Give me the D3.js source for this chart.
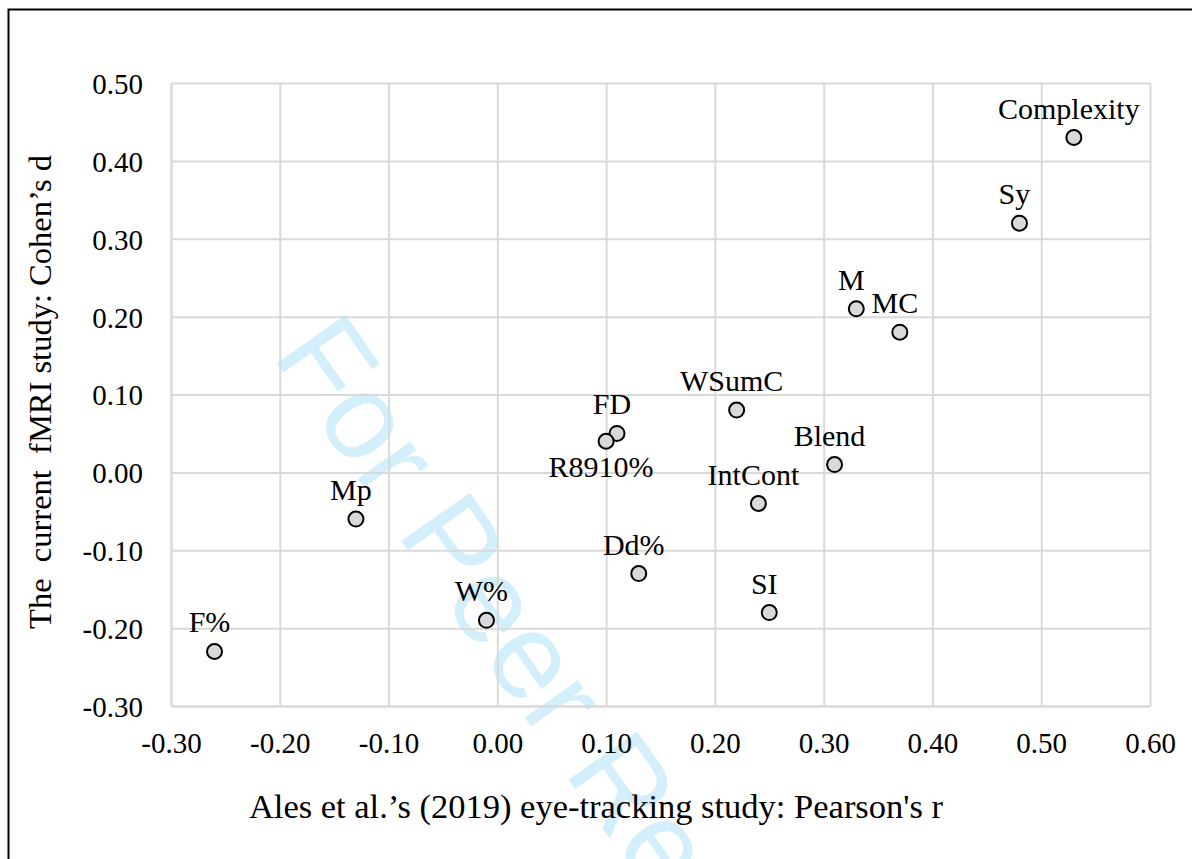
<!DOCTYPE html>
<html lang="en">
<head>
    <meta charset="UTF-8">
    <title>Ales et al. vs fMRI scatter</title>
    <style>
        body { margin: 0; background: #fff; }
        svg text { font-family: "Liberation Serif", "Times New Roman", serif; fill: #000; }
        .grid line, .grid path { stroke: #d9d9d9; stroke-width: 2px; }
    </style>
</head>
<body>
    <div id="chart"></div>

    <script src="https://d3js.org/d3.v7.min.js"></script>
    <script>
        // Data
        const names = ["Complexity", "Sy", "M", "MC", "WSumC", "Blend", "FD", "R8910%",
                       "IntCont", "Mp", "Dd%", "SI", "W%", "F%"];
        const pearsonR = [0.53, 0.48, 0.33, 0.37, 0.22, 0.31, 0.11, 0.10,
                          0.24, -0.13, 0.13, 0.25, -0.01, -0.26];
        const cohensD = [0.43, 0.32, 0.21, 0.18, 0.08, 0.01, 0.05, 0.04,
                         -0.04, -0.06, -0.13, -0.18, -0.19, -0.23];
        const xTicks = [-0.3, -0.2, -0.1, 0.0, 0.1, 0.2, 0.3, 0.4, 0.5, 0.6];
        const yTicks = [-0.3, -0.2, -0.1, 0.0, 0.1, 0.2, 0.3, 0.4, 0.5];
        const labelsBelow = ["R8910%"];

        const width = 1192;
        const height = 859;
        const plot = { left: 171, top: 83, right: 1150, bottom: 706 };
        const serif = "'Liberation Serif', 'Times New Roman', serif";

        const svg = d3.select("#chart").append("svg")
            .attr("width", width)
            .attr("height", height);

        // watermark
        svg.append("text")
            .attr("transform", "translate(271,355) rotate(55)")
            .style("font-family", "'Liberation Sans', Arial, sans-serif")
            .style("font-size", "122px")
            .style("fill", "#d3effc")
            .text("For Peer Review");

        // frame
        svg.append("path")
            .attr("d", `M8.5,${height} V9.5 H${width}`)
            .attr("fill", "none")
            .attr("stroke", "#000")
            .attr("stroke-width", 2);

        const x = d3.scaleLinear().domain([-0.3, 0.6]).range([plot.left, plot.right]);
        const y = d3.scaleLinear().domain([-0.3, 0.5]).range([plot.bottom, plot.top]);
        const fmt = d => d.toFixed(2);

        const xAxis = svg.append("g")
            .attr("class", "grid")
            .attr("transform", `translate(0,${plot.bottom})`)
            .call(d3.axisBottom(x).tickValues(xTicks).tickFormat(fmt)
                .tickSize(-(plot.bottom - plot.top)).tickSizeOuter(0).tickPadding(26));

        const yAxis = svg.append("g")
            .attr("class", "grid")
            .attr("transform", `translate(${plot.left},0)`)
            .call(d3.axisLeft(y).tickValues(yTicks).tickFormat(fmt)
                .tickSize(-(plot.right - plot.left)).tickSizeOuter(0).tickPadding(28));

        [xAxis, yAxis].forEach(g => {
            g.attr("font-family", serif).attr("font-size", 29);
            g.selectAll(".tick text")
                .attr("font-family", serif)
                .style("font-family", serif)
                .style("font-size", "29px")
                .attr("fill", "#000");
        });
        yAxis.selectAll(".tick text").attr("dy", "0.36em");

        // axis titles
        svg.append("text")
            .attr("x", 596)
            .attr("y", 818)
            .attr("text-anchor", "middle")
            .style("font-size", "34.5px")
            .text("Ales et al.’s (2019) eye-tracking study: Pearson's r");

        svg.append("text")
            .attr("transform", "translate(51,392) rotate(-90)")
            .attr("text-anchor", "middle")
            .style("font-size", "32.5px")
            .style("white-space", "pre")
            .text("The  current  fMRI study: Cohen’s d");

        const pts = names.map((n, i) => ({ name: n, r: pearsonR[i], d: cohensD[i] }));

        svg.append("g").selectAll("circle")
            .data(pts)
            .join("circle")
            .attr("cx", d => x(d.r))
            .attr("cy", d => y(d.d))
            .attr("r", 7.5)
            .attr("fill", "#d9d9d9")
            .attr("stroke", "#000")
            .attr("stroke-width", 2);

        svg.append("g").selectAll("text")
            .data(pts)
            .join("text")
            .attr("x", d => x(d.r) - 5)
            .attr("y", d => y(d.d) + (labelsBelow.includes(d.name) ? 36 : -19))
            .attr("text-anchor", "middle")
            .style("font-size", "30px")
            .text(d => d.name);
    </script>
</body>
</html>
